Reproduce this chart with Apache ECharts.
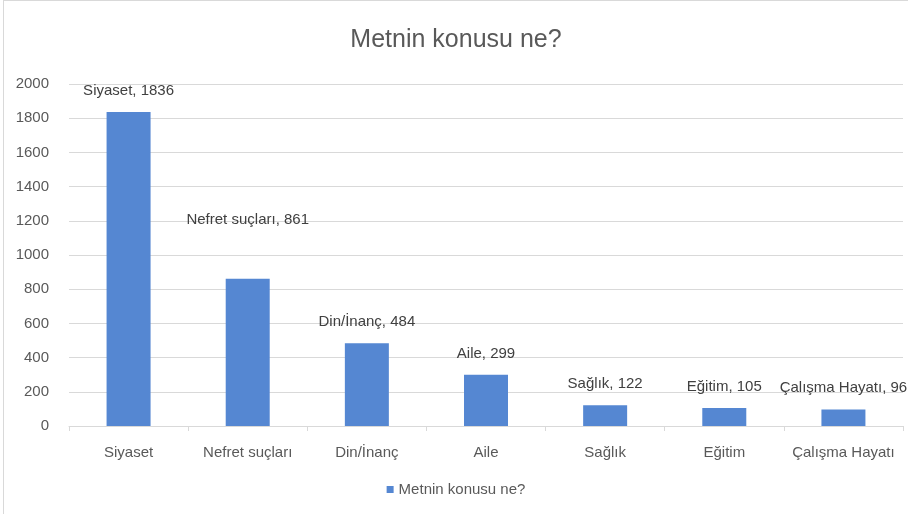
<!DOCTYPE html>
<html>
<head>
<meta charset="utf-8">
<script src="https://cdn.jsdelivr.net/npm/echarts@6/dist/echarts.min.js"></script>
<style>
  html, body { margin: 0; padding: 0; background: #fff; }
  #chart { width: 905px; height: 514px; margin-left: 3px; border: 1px solid #d9d9d9; border-right: none; border-bottom: none; box-sizing: border-box; }
</style>
</head>
<body>
<div id="chart"></div>
<script>
// veriler
const categories = ["Siyaset", "Nefret suçları", "Din/İnanç", "Aile", "Sağlık", "Eğitim", "Çalışma Hayatı"];
const values = [1836, 861, 484, 299, 122, 105, 96];
const seriesName = "Metnin konusu ne?";
const yTicks = { min: 0, max: 2000, interval: 200 };

const textColor = "#595959";
const font = "Liberation Sans, Arial, sans-serif";

let myChart = echarts.init(document.getElementById("chart"));

const option = {
  animation: false,
  title: {
    text: seriesName,
    left: "center",
    top: 22,
    textStyle: { color: textColor, fontSize: 25, fontWeight: "normal", fontFamily: font }
  },
  grid: { left: 65, right: 5, top: 83, bottom: 88 },
  xAxis: {
    type: "category",
    data: categories,
    axisLine: { lineStyle: { color: "#d9d9d9" } },
    axisTick: { show: true, interval: 0, lineStyle: { color: "#d9d9d9" }, length: 5 },
    axisLabel: { interval: 0, color: textColor, fontSize: 15, fontFamily: font, margin: 19 }
  },
  yAxis: {
    type: "value",
    min: yTicks.min,
    max: yTicks.max,
    interval: yTicks.interval,
    axisLine: { show: false },
    axisTick: { show: false },
    splitLine: { lineStyle: { color: "#d9d9d9", width: 1 } },
    axisLabel: { color: textColor, fontSize: 15, fontFamily: font, margin: 20, formatter: (v) => String(v) }
  },
  legend: {
    bottom: 12,
    left: "center",
    icon: "rect",
    itemWidth: 7,
    itemHeight: 7,
    textStyle: { color: textColor, fontSize: 15, fontFamily: font },
    data: [seriesName]
  },
  series: [
    {
      name: seriesName,
      type: "bar",
      barWidth: 44,
      itemStyle: { color: "#5587d2" },
      label: {
        show: true,
        position: "top",
        distance: 14,
        color: "#404040",
        fontSize: 15,
        fontFamily: font,
        formatter: (p) => p.name + ", " + p.value
      },
      data: values.map((v, i) => {
        if (i === 1) {
          return { value: v, label: { distance: 51 } };
        }
        return v;
      })
    }
  ]
};

myChart.setOption(option, true);
</script>
</body>
</html>
